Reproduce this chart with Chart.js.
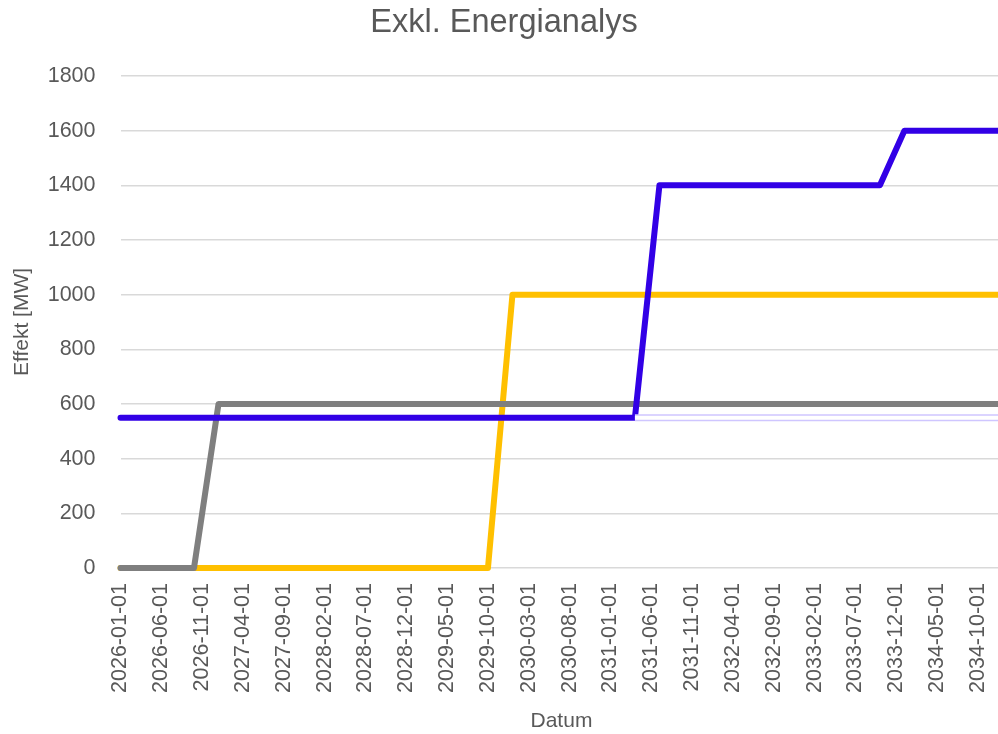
<!DOCTYPE html>
<html>
<head>
<meta charset="utf-8">
<script src="https://cdn.jsdelivr.net/npm/chart.js@4/dist/chart.umd.min.js"></script>
<style>
  html, body { margin: 0; padding: 0; background: #fff; overflow: hidden; }
  #wrap { width: 1019px; height: 734px; }
</style>
</head>
<body>
<div id="wrap"><canvas id="c" width="1019" height="734"></canvas></div>
<script>
// Category axis: monthly dates 2026-01-01 .. 2035-01-01
const months = [];
for (let y = 2026; y <= 2035; y++) {
  for (let m = 1; m <= 12; m++) {
    if (y === 2035 && m > 1) break;
    months.push(y + '-' + String(m).padStart(2, '0') + '-01');
  }
}
const tickEvery = 5;

// Series (breakpoints of each step line)
const greyDates   = ['2026-01-01', '2026-10-01', '2027-01-01', '2035-01-01'];
const greyValues  = [0, 0, 600, 600];
const yellowDates = ['2026-01-01', '2029-10-01', '2030-01-01', '2035-01-01'];
const yellowValues= [0, 0, 1000, 1000];
const blueDates   = ['2026-01-01', '2031-04-01', '2031-07-01', '2033-10-01', '2034-01-01', '2035-01-01'];
const blueValues  = [550, 550, 1400, 1400, 1600, 1600];
const ghostDates  = ['2031-04-01', '2035-01-01'];
const ghostValues = [550, 550];

const toPts = (d, v) => d.map((x, i) => ({ x: x, y: v[i] }));

const FONT = 'Liberation Sans';
const TXT = '#595959';

new Chart(document.getElementById('c'), {
  type: 'line',
  data: {
    labels: months,
    datasets: [
      { label: 'ghost-core', data: toPts(ghostDates, ghostValues), borderColor: '#ffffff', borderWidth: 4, pointRadius: 0, order: 0, borderCapStyle: 'butt' },
      { label: 'ghost-edge', data: toPts(ghostDates, ghostValues), borderColor: '#cfc6ff', borderWidth: 7, pointRadius: 0, order: 1, borderCapStyle: 'butt' },
      { label: 'Blå', data: toPts(blueDates, blueValues), borderColor: '#3200e6', borderWidth: 6, pointRadius: 0, order: 2, borderCapStyle: 'round', borderJoinStyle: 'round' },
      { label: 'Grå', data: toPts(greyDates, greyValues), borderColor: '#7f7f7f', borderWidth: 6, pointRadius: 0, order: 3, borderCapStyle: 'round', borderJoinStyle: 'round' },
      { label: 'Gul', data: toPts(yellowDates, yellowValues), borderColor: '#ffc000', borderWidth: 6, pointRadius: 0, order: 4, borderCapStyle: 'round', borderJoinStyle: 'round' }
    ]
  },
  options: {
    responsive: false,
    animation: false,
    clip: false,
    layout: { padding: { left: 0, right: 11, top: 0, bottom: 0 } },
    plugins: {
      legend: { display: false },
      tooltip: { enabled: false },
      title: {
        display: true,
        text: 'Exkl. Energianalys',
        color: TXT,
        font: { family: FONT, size: 32.5, weight: 'normal' },
        padding: { top: 4, bottom: 33 }
      }
    },
    scales: {
      x: {
        type: 'category',
        offset: false,
        grid: { display: false, drawTicks: false },
        border: { display: false },
        ticks: {
          autoSkip: false,
          minRotation: 90,
          maxRotation: 90,
          padding: 15,
          color: TXT,
          font: { family: FONT, size: 21.5 },
          callback: function (v, i) { return i % tickEvery === 0 ? months[i] : null; }
        },
        title: {
          display: true,
          text: 'Datum',
          color: TXT,
          font: { family: FONT, size: 21 },
          padding: { top: 0, bottom: 0 }
        },
        afterFit: function (s) { s.height = 166; }
      },
      y: {
        min: 0,
        max: 1800,
        grid: { color: '#d9d9d9', lineWidth: 1.5, drawTicks: false },
        border: { display: false },
        ticks: {
          stepSize: 200,
          padding: 25,
          color: TXT,
          font: { family: FONT, size: 21.5 },
          callback: function (v) { return String(v); }
        },
        title: {
          display: true,
          text: 'Effekt [MW]',
          color: TXT,
          font: { family: FONT, size: 21 },
          padding: { top: 10, bottom: 0 }
        },
        afterFit: function (s) { s.width = 120.5; }
      }
    }
  }
});
</script>
</body>
</html>
